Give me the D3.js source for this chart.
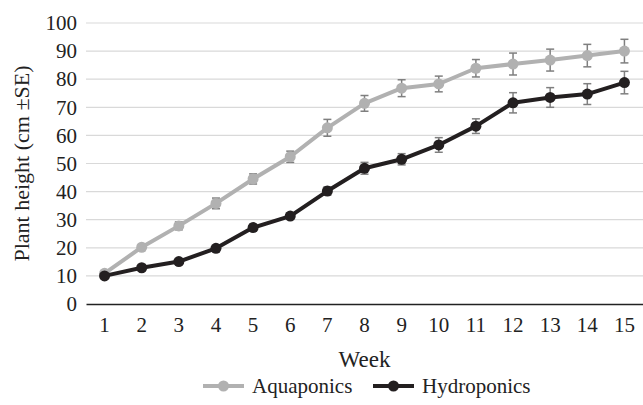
<!DOCTYPE html>
<html>
<head>
<meta charset="utf-8">
<script src="https://cdn.jsdelivr.net/npm/d3@7"></script>
</head>
<body style="margin:0">
<div id="chart"></div>
<script>
// data
const weeks = [1, 2, 3, 4, 5, 6, 7, 8, 9, 10, 11, 12, 13, 14, 15];
const aquaponics = [10.9, 20.2, 27.8, 35.8, 44.5, 52.4, 62.7, 71.4, 76.8, 78.3, 83.9, 85.4, 86.8, 88.4, 90.0];
const aquaponicsSE = [0.8, 0.9, 1.4, 1.9, 1.8, 2.0, 3.0, 2.8, 3.0, 2.8, 3.1, 3.9, 3.9, 4.0, 4.2];
const hydroponics = [10.0, 12.9, 15.1, 19.8, 27.2, 31.3, 40.2, 48.3, 51.5, 56.6, 63.3, 71.6, 73.5, 74.7, 78.8];
const hydroponicsSE = [0.6, 0.7, 0.8, 1.0, 1.2, 1.1, 1.5, 2.1, 2.0, 2.6, 2.6, 3.6, 3.5, 3.7, 4.0];
const yTicks = [0, 10, 20, 30, 40, 50, 60, 70, 80, 90, 100];
const seriesNames = ["Aquaponics", "Hydroponics"];

const FONT = '"Liberation Serif", serif';

// set the font straight on each text node
function serif(sel, size) {
    sel.attr("font-family", FONT)
        .attr("font-size", size)
        .attr("fill", "#222");
}

function lineChart() {
    let svgWidth = 643;
    let svgHeight = 405;

    let margin = { top: 23, right: 0, bottom: 101, left: 86 };
    let chartWidth = svgWidth - margin.left - margin.right;
    let chartHeight = svgHeight - margin.top - margin.bottom;

    let svg = d3.select("#chart").append("svg")
        .attr("width", svgWidth)
        .attr("height", svgHeight);

    let chartGroup = svg.append("g")
        .attr("transform", `translate(${margin.left}, ${margin.top})`);

    // category x scale, points sit in the band centres
    let xScale = d3.scaleBand()
        .domain(weeks)
        .range([0, chartWidth]);
    let xPos = w => xScale(w) + xScale.bandwidth() / 2;

    let yScale = d3.scaleLinear()
        .domain([0, 100])
        .range([chartHeight, 0]);

    // gridlines
    chartGroup.append("g")
        .selectAll("line")
        .data(yTicks.slice(1))
        .enter()
        .append("line")
        .attr("x1", 0)
        .attr("x2", chartWidth)
        .attr("y1", d => yScale(d))
        .attr("y2", d => yScale(d))
        .attr("stroke", "#d9d9d9")
        .attr("stroke-width", 1.2);

    // y axis labels only
    let yAxis = d3.axisLeft(yScale).tickValues(yTicks).tickSize(0).tickPadding(9);
    let yG = chartGroup.append("g").call(yAxis)
        .attr("font-family", FONT)
        .attr("font-size", 21);
    yG.select(".domain").remove();
    yG.selectAll("text").call(serif, 21);

    // x axis
    let xAxis = d3.axisBottom(xScale).tickSize(0).tickPadding(13);
    let xG = chartGroup.append("g")
        .attr("transform", `translate(0, ${chartHeight})`)
        .call(xAxis)
        .attr("font-family", FONT)
        .attr("font-size", 21);
    xG.select(".domain").attr("stroke", "#222").attr("stroke-width", 1.5);
    xG.selectAll("text").call(serif, 21);

    let series = [
        { name: seriesNames[0], values: aquaponics, se: aquaponicsSE, color: "#b1b1b1" },
        { name: seriesNames[1], values: hydroponics, se: hydroponicsSE, color: "#231f20" }
    ];

    let line = d3.line()
        .x((d, i) => xPos(weeks[i]))
        .y(d => yScale(d));

    series.forEach(s => {
        // error bars
        let eb = chartGroup.append("g")
            .attr("stroke", "#7f7f7f")
            .attr("stroke-width", 1.5);
        s.values.forEach((v, i) => {
            let x = xPos(weeks[i]);
            let top = yScale(v + s.se[i]);
            let bot = yScale(v - s.se[i]);
            eb.append("line").attr("x1", x).attr("x2", x).attr("y1", top).attr("y2", bot);
            eb.append("line").attr("x1", x - 4).attr("x2", x + 4).attr("y1", top).attr("y2", top);
            eb.append("line").attr("x1", x - 4).attr("x2", x + 4).attr("y1", bot).attr("y2", bot);
        });

        chartGroup.append("path")
            .datum(s.values)
            .attr("fill", "none")
            .attr("stroke", s.color)
            .attr("stroke-width", 4)
            .attr("stroke-linejoin", "round")
            .attr("d", line);

        chartGroup.append("g")
            .selectAll("circle")
            .data(s.values)
            .enter()
            .append("circle")
            .attr("cx", (d, i) => xPos(weeks[i]))
            .attr("cy", d => yScale(d))
            .attr("r", 5.5)
            .attr("fill", s.color);
    });

    // axis titles
    svg.append("text")
        .attr("transform", `translate(29, ${margin.top + chartHeight / 2}) rotate(-90)`)
        .attr("text-anchor", "middle")
        .call(serif, 22)
        .text("Plant height (cm \u00B1SE)");

    svg.append("text")
        .attr("x", margin.left + chartWidth / 2)
        .attr("y", 367)
        .attr("text-anchor", "middle")
        .call(serif, 23)
        .text("Week");

    // legend
    let legendItems = [
        { x: 203, s: series[0] },
        { x: 373, s: series[1] }
    ];
    let legend = svg.append("g").attr("transform", "translate(0, 386)");
    legendItems.forEach(item => {
        legend.append("line")
            .attr("x1", item.x).attr("x2", item.x + 41)
            .attr("y1", 0).attr("y2", 0)
            .attr("stroke", item.s.color)
            .attr("stroke-width", 4);
        legend.append("circle")
            .attr("cx", item.x + 20.5).attr("cy", 0)
            .attr("r", 5.5)
            .attr("fill", item.s.color);
        legend.append("text")
            .attr("x", item.x + 49)
            .attr("y", 6.5)
            .call(serif, 21)
            .text(item.s.name);
    });
}

lineChart();
</script>
</body>
</html>
